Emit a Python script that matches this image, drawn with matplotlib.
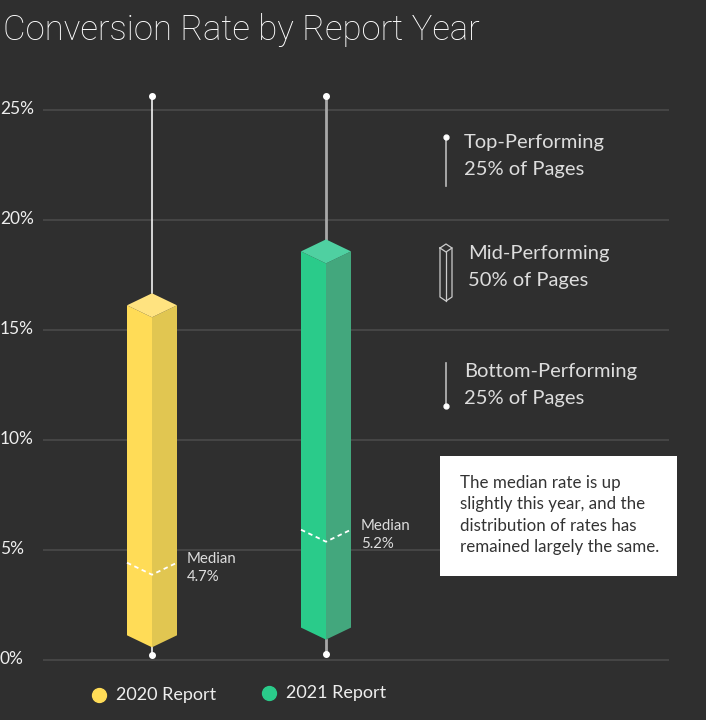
import numpy as np
import matplotlib.pyplot as plt
from matplotlib.patches import Polygon, FancyBboxPatch

# =============================================================================
# Data (percent)
# =============================================================================
reports = ['2020 Report', '2021 Report']
whisker_low = [0.2, 0.25]
box_low = [1.1, 1.45]
median_pos = [4.4, 5.9]
box_high = [16.1, 18.55]
whisker_high = [25.6, 25.6]
median_labels = ['4.7%', '5.2%']
yticks = [0, 5, 10, 15, 20, 25]

face_left = ['#FFDC57', '#2ACB8A']
face_right = ['#E1C651', '#43A77D']
face_top = ['#FFE380', '#4FD0A1']
whisker_col = ['#F2F2F2', '#A8A8A8']

bg = '#2F2F2F'
grid_col = '#454545'
text_col = '#EEEEEE'
plt.rcParams['font.family'] = ['Lato', 'DejaVu Sans']

# =============================================================================
# Layout (pixel based, figure is 706x720 at 100 dpi)
# =============================================================================
W, H = 706, 720
px_per_pct = 22.0
zero_px = 659.5          # pixel row of 0%
x0_px, step_px = 152, 174  # centre of first box, spacing between boxes
half_w = 25 / step_px      # box half width in x units
depth = 12 / px_per_pct    # diamond half height in % units

fig = plt.figure(figsize=(W / 100, H / 100), dpi=100, facecolor=bg)
ax = fig.add_axes([0, 0, 1, 1])
ax.set_facecolor(bg)
ax.set_xlim(-x0_px / step_px, (W - x0_px) / step_px)
ax.set_ylim((zero_px - H) / px_per_pct, zero_px / px_per_pct)
ax.axis('off')

# grid and y labels
for t in yticks:
    ax.axhline(t, xmin=44 / W, xmax=668 / W, color=grid_col, lw=1.5, zorder=0)
    ax.text(0.0, t, f'{t}%', transform=ax.get_yaxis_transform(),
            ha='left', va='center', color=text_col, fontsize=12.5)

# =============================================================================
# Isometric boxes
# =============================================================================
for i in range(len(reports)):
    x = i
    lo, hi, m = box_low[i], box_high[i], median_pos[i]

    # whiskers
    ax.plot([x, x], [hi + depth, whisker_high[i]], color=whisker_col[i],
            lw=1.2 if i == 0 else 2, zorder=1)
    ax.plot([x, x], [whisker_low[i], lo - depth], color=whisker_col[i],
            lw=1.2 if i == 0 else 2, zorder=1)
    ax.plot([x, x], [whisker_low[i], whisker_high[i]], 'o', color='white',
            ms=4, ls='none', zorder=3)

    left = [(x - half_w, hi), (x, hi - depth), (x, lo - depth), (x - half_w, lo)]
    right = [(x, hi - depth), (x + half_w, hi), (x + half_w, lo), (x, lo - depth)]
    top = [(x - half_w, hi), (x, hi + depth), (x + half_w, hi), (x, hi - depth)]
    ax.add_patch(Polygon(left, closed=True, fc=face_left[i], ec='none', zorder=2))
    ax.add_patch(Polygon(right, closed=True, fc=face_right[i], ec='none', zorder=2))
    ax.add_patch(Polygon(top, closed=True, fc=face_top[i], ec='none', zorder=2))

    # median
    ax.plot([x - half_w, x, x + half_w], [m, m - depth, m], color='white',
            lw=1.3, ls=(0, (2.5, 2)), zorder=3)
    ax.text(x + half_w + 10 / step_px, m - 0.25, 'Median\n' + median_labels[i],
            ha='left', va='center', color='#DDDDDD', fontsize=10.8,
            linespacing=1.35, zorder=3)

# =============================================================================
# Title, side legend, note, bottom legend
# =============================================================================
fig.text(3 / W, 1 - 30 / H, 'Conversion Rate by Report Year', ha='left',
         va='center', color='white', fontsize=25, family='Roboto',
         fontweight='light')

px = lambda xp, yp: (xp / W, 1 - yp / H)

# top performing icon
ax.plot(*zip(px(446, 137), px(446, 186)), transform=fig.transFigure,
        color='#BBBBBB', lw=1.2)
ax.plot(*px(446, 137), 'o', transform=fig.transFigure, color='white', ms=3.5)
fig.text(*px(464, 156), 'Top-Performing\n25% of Pages', ha='left', va='center',
         color='#DDDDDD', fontsize=14.5, linespacing=1.72)

# mid performing icon
ix, iw = 446, 6
it, ib, idp = 248, 297, 4
for seg in [[(ix - iw, it), (ix, it - idp), (ix + iw, it), (ix, it + idp), (ix - iw, it)],
            [(ix - iw, it), (ix - iw, ib), (ix, ib + idp), (ix + iw, ib), (ix + iw, it)],
            [(ix, it + idp), (ix, ib + idp)]]:
    xs, ys = zip(*[px(a, b) for a, b in seg])
    ax.plot(xs, ys, transform=fig.transFigure, color='#CCCCCC', lw=0.9)
fig.text(*px(468, 267), 'Mid-Performing\n50% of Pages', ha='left', va='center',
         color='#DDDDDD', fontsize=14.5, linespacing=1.72)

# bottom performing icon
ax.plot(*zip(px(446, 363), px(446, 406)), transform=fig.transFigure,
        color='#BBBBBB', lw=1.2)
ax.plot(*px(446, 406), 'o', transform=fig.transFigure, color='white', ms=3.5)
fig.text(*px(464, 385), 'Bottom-Performing\n25% of Pages', ha='left', va='center',
         color='#DDDDDD', fontsize=14.5, linespacing=1.72)

# note box
fig.patches.append(FancyBboxPatch(px(440, 576), 237 / W, 120 / H,
                                  boxstyle='square,pad=0', fc='white', ec='none',
                                  transform=fig.transFigure, figure=fig))
fig.text(*px(460, 515), 'The median rate is up\nslightly this year, and the\n'
         'distribution of rates has\nremained largely the same.',
         ha='left', va='center', color='#333333', fontsize=12.2, linespacing=1.4)

# bottom legend
for i, (lx, ly) in enumerate([(99, 695), (269, 693)]):
    ax.plot(*px(lx, ly), 'o', transform=fig.transFigure, color=face_left[i], ms=10)
    fig.text(*px(lx + 17, ly), reports[i], ha='left', va='center',
             color='#EEEEEE', fontsize=13)

fig.savefig('out.png', dpi=100, facecolor=bg)
